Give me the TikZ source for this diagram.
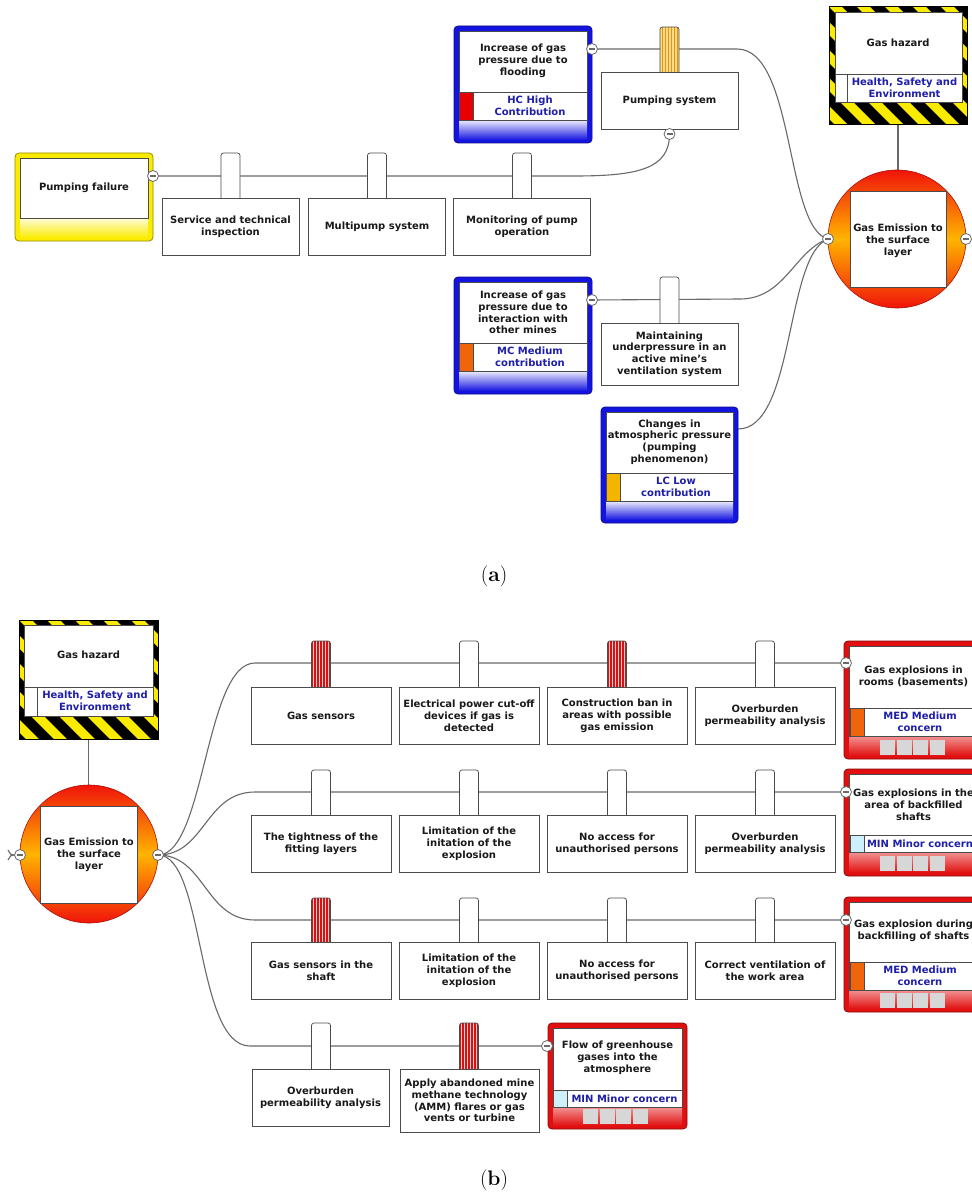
\documentclass[tikz,border=0pt]{standalone}
\usepackage{fontspec}
\setsansfont{DejaVu Sans}
\definecolor{txtc}{RGB}{25,25,25}
\definecolor{bluet}{RGB}{30,30,170}
\definecolor{linec}{RGB}{105,105,105}
\definecolor{framec}{RGB}{75,75,75}
\definecolor{bluef}{RGB}{20,20,225}
\definecolor{redf}{RGB}{225,15,15}
\definecolor{yelf}{RGB}{250,235,0}
\definecolor{hcred}{RGB}{230,0,0}
\definecolor{mcor}{RGB}{240,100,10}
\definecolor{lcor}{RGB}{245,180,0}
\definecolor{minc}{RGB}{205,240,250}
\definecolor{grayq}{RGB}{215,215,215}
\definecolor{redc}{RGB}{240,20,10}
\definecolor{orc}{RGB}{255,180,0}
\definecolor{tabred}{RGB}{210,20,20}
\definecolor{tabredl}{RGB}{255,205,205}
\definecolor{tabor}{RGB}{250,220,130}
\definecolor{taborl}{RGB}{230,145,25}
\newcommand{\cframe}[7]{%
  \fill[#6, rounded corners=4pt] (#1,#2) rectangle (#3,#4);
  \shade[top color=#7, bottom color=#6] (#1+5,#5) rectangle (#3-5,#4-3);
  \draw[#6!60!black, line width=0.8pt, rounded corners=4pt] (#1,#2) rectangle (#3,#4);
  \draw[inbox] (#1+5,#2+5) rectangle (#3-5,#5);
}
\newcommand{\lblrow}[5]{%
  \fill[#5] (#1,#3) rectangle (#1+14,#4);
  \draw[framec, line width=0.6pt] (#1,#3) -- (#2,#3) (#1+14,#3) -- (#1+14,#4);
  \draw[framec, line width=0.6pt] (#1,#3) rectangle (#2,#4);
}
\newcommand{\grayrow}[2]{%
  \foreach \i in {0,1,2,3}{\fill[grayq] (#1+\i*16.5,#2) rectangle (#1+\i*16.5+15,#2+15);}
}
\newcommand{\tabw}[3]{%
  \draw[fill=white, draw=framec, line width=0.7pt, rounded corners=2.5pt] (#1-9.5,#2) rectangle (#1+9.5,#3+4);
}
\newcommand{\tabs}[5]{%
  \begin{scope}
    \clip[rounded corners=2.5pt] (#1-9.5,#2) rectangle (#1+9.5,#3+4);
    \fill[#4] (#1-10,#2) rectangle (#1+10,#3+4);
    \foreach \k in {0,3,...,15}{\draw[#5, line width=0.9pt] (#1-7.5+\k,#2) -- (#1-7.5+\k,#3+4);}
  \end{scope}
  \draw[framec, line width=0.7pt, rounded corners=2.5pt] (#1-9.5,#2) rectangle (#1+9.5,#3+4);
}
\newcommand{\hazard}[4]{%
  \begin{scope}
    \clip (#1,#2) rectangle (#3,#4);
    \fill[black] (#1,#2) rectangle (#3,#4);
    \foreach \k in {0,...,10}{%
      \pgfmathsetmacro{\xs}{#1-140+\k*28}%
      \fill[yelf] (\xs,#2) -- (\xs+13,#2) -- (\xs+13+125,#2+125) -- (\xs+125,#2+125) -- cycle;}
  \end{scope}
  \draw[black, line width=1pt] (#1,#2) rectangle (#3,#4);
}
\newcommand{\minusc}[1]{%
  \draw[fill=white, draw=linec, line width=0.8pt] (#1) circle (5.5pt);
  \draw[linec, line width=1.1pt] ([xshift=-3pt]#1) -- ([xshift=3pt]#1);
}
\begin{document}
\begin{tikzpicture}[x=1pt,y=-1pt,
  txt/.style={font=\sffamily\bfseries\fontsize{10}{11.8}\selectfont, text=txtc, align=center, inner sep=0pt},
  btxt/.style={txt, text=bluet},
  bar/.style={txt, draw=framec, fill=white, line width=0.7pt, minimum width=140pt, minimum height=57pt},
  conn/.style={draw=linec, line width=1.1pt},
  inbox/.style={draw=framec, fill=white, line width=0.6pt},
  lab/.style={font=\fontsize{21}{24}\selectfont, inner sep=0pt}
]
\useasboundingbox (0,0) rectangle (971,1193);
\fill[white] (0,0) rectangle (971,1193);

% ---------- (a) coordinates ----------
\coordinate (pfm) at (153,176);
\coordinate (flm) at (592,49);
\coordinate (psm) at (669.5,134);
\coordinate (imm) at (592,300);
\coordinate (chm) at (738,429);
\coordinate (gel) at (828,239);
\coordinate (ger) at (966,239);
\coordinate (ghb) at (898,125);
\coordinate (get) at (898,170);

% ---------- (b) coordinates ----------
\coordinate (ghbb) at (88.5,739);
\coordinate (getb) at (88.5,785);
\coordinate (gelb) at (20,855);
\coordinate (gerb) at (158,855);
\coordinate (c1m) at (846,663);
\coordinate (c2m) at (846,792);
\coordinate (c3m) at (846,920);
\coordinate (c4m) at (547,1046);

% ---------- connectors (a) ----------
\draw[conn] (ghb) -- (get);
\draw[conn] (pfm) -- (575,176) .. controls (640,176) and (669.5,168) .. (psm);
\draw[conn] (flm) -- (737,49) .. controls (795,49) and (785,228) .. (gel);
\draw[conn] (imm) -- (740,299) .. controls (785,299) and (795,250) .. (gel);
\draw[conn] (chm) .. controls (795,429) and (785,255) .. (gel);

% ---------- connectors (b) ----------
\draw[conn] (ghbb) -- (getb);
\draw[conn] (gerb) .. controls (205,855) and (205,663) .. (255,663) -- (c1m);
\draw[conn] (gerb) .. controls (205,855) and (205,792) .. (255,792) -- (c2m);
\draw[conn] (gerb) .. controls (205,855) and (205,920) .. (255,920) -- (c3m);
\draw[conn] (gerb) .. controls (205,855) and (195,1046) .. (250,1046) -- (c4m);
\draw[conn] (gelb) -- (14,855) .. controls (11,855) .. (8,850);
\draw[conn] (14,855) .. controls (11,855) .. (8,860);

% ---------- tabs (a) ----------
\tabw{230.5}{153}{198}
\tabw{377}{153}{198}
\tabw{522}{153}{198}
\tabs{669.5}{27}{72}{tabor}{taborl}
\tabw{669.5}{277}{323}

% ---------- tabs (b) ----------
\tabs{321}{641}{687}{tabred}{tabredl}
\tabw{469}{641}{687}
\tabs{617}{641}{687}{tabred}{tabredl}
\tabw{765}{641}{687}
\tabw{321}{770}{815}
\tabw{469}{770}{815}
\tabw{617}{770}{815}
\tabw{765}{770}{815}
\tabs{321}{898}{942}{tabred}{tabredl}
\tabw{469}{898}{942}
\tabw{617}{898}{942}
\tabw{765}{898}{942}
\tabw{321}{1023}{1069}
\tabs{469}{1023}{1069}{tabred}{tabredl}

% ---------- barriers (a) ----------
\node[bar, minimum width=137pt] (sti) at (230.5,226.5) {Service and technical\\inspection};
\node[bar, minimum width=137pt] (mps) at (377,226.5) {Multipump system};
\node[bar, minimum width=137pt] (mpo) at (522,226.5) {Monitoring of pump\\operation};
\node[bar, minimum width=137pt] (pms) at (669.5,100.5) {Pumping system};
\node[bar, minimum width=137pt, minimum height=62pt] (mup) at (669.5,354) {Maintaining\\underpressure in an\\active mine's\\ventilation system};

% ---------- threats (a) ----------
\cframe{15}{153}{153}{241}{218}{yelf}{yelf!15!white}
\node[txt] (pf) at (84,188) {Pumping failure};

\cframe{454}{26}{592}{143}{120}{bluef}{bluef!8!white}
\lblrow{459}{587}{92}{120}{hcred}
\node[txt] (fl) at (523,61) {Increase of gas\\pressure due to\\flooding};
\node[btxt] (flc) at (530,106) {HC High\\Contribution};

\cframe{454}{277}{592}{394}{371}{bluef}{bluef!8!white}
\lblrow{459}{587}{343}{371}{mcor}
\node[txt] (im) at (523,312.5) {Increase of gas\\pressure due to\\interaction with\\other mines};
\node[btxt] (imc) at (530,357) {MC Medium\\contribution};

\cframe{601}{407}{738}{523}{501}{bluef}{bluef!8!white}
\lblrow{606}{733}{473}{501}{lcor}
\node[txt] (ch) at (669.5,442) {Changes in\\atmospheric pressure\\(pumping\\phenomenon)};
\node[btxt] (chc) at (676,487) {LC Low\\contribution};

% ---------- hazard (a) ----------
\hazard{829}{7}{967}{125}
\draw[inbox] (835,12) rectangle (962,102);
\draw[framec, line width=0.6pt] (835,74) -- (962,74) (847,74) -- (847,102);
\node[txt] (gha) at (898,43) {Gas hazard};
\node[btxt] (ghac) at (904.5,87.5) {Health, Safety and\\Environment};

% ---------- top event (a) ----------
\shade[top color=redc, bottom color=redc, middle color=orc] (897,239) circle (69pt);
\draw[redc!70!black, line width=0.6pt] (897,239) circle (69pt);
\draw[inbox] (850,191) rectangle (946,287);
\node[txt] (gea) at (898,241) {Gas Emission to\\the surface\\layer};

% ---------- hazard (b) ----------
\hazard{19}{620}{158}{739}
\draw[inbox] (24,625) rectangle (153,716);
\draw[framec, line width=0.6pt] (24,687) -- (153,687) (37,687) -- (37,716);
\node[txt] (ghb2) at (88.5,655) {Gas hazard};
\node[btxt] (ghbc) at (95,700.5) {Health, Safety and\\Environment};

% ---------- top event (b) ----------
\shade[top color=redc, bottom color=redc, middle color=orc] (89,854) circle (69pt);
\draw[redc!70!black, line width=0.6pt] (89,854) circle (69pt);
\draw[inbox] (40,806) rectangle (137,903);
\node[txt] (geb) at (89,855) {Gas Emission to\\the surface\\layer};

% ---------- barriers (b) ----------
\node[bar] (r1a) at (321,715.5) {Gas sensors};
\node[bar] (r1b) at (469,715.5) {Electrical power cut-off\\devices if gas is\\detected};
\node[bar] (r1c) at (617,715.5) {Construction ban in\\areas with possible\\gas emission};
\node[bar] (r1d) at (765,715.5) {Overburden\\permeability analysis};
\node[bar] (r2a) at (321,843.5) {The tightness of the\\fitting layers};
\node[bar] (r2b) at (469,843.5) {Limitation of the\\initation of the\\explosion};
\node[bar] (r2c) at (617,843.5) {No access for\\unauthorised persons};
\node[bar] (r2d) at (765,843.5) {Overburden\\permeability analysis};
\node[bar] (r3a) at (321,970.5) {Gas sensors in the\\shaft};
\node[bar] (r3b) at (469,970.5) {Limitation of the\\initation of the\\explosion};
\node[bar] (r3c) at (617,970.5) {No access for\\unauthorised persons};
\node[bar] (r3d) at (765,970.5) {Correct ventilation of\\the work area};
\node[bar, minimum width=137pt] (r4a) at (320.5,1098) {Overburden\\permeability analysis};
\node[bar, minimum width=139pt, minimum height=63pt] (r4b) at (469.5,1100.5) {Apply abandoned mine\\methane technology\\(AMM) flares or gas\\vents or turbine};

% ---------- consequences (b) ----------
\cframe{844}{641}{983}{759}{736}{redf}{redf!45!white}
\lblrow{850}{977}{708}{736}{mcor}
\grayrow{880}{740}
\node[txt] (c1) at (913.5,676) {Gas explosions in\\rooms (basements)};
\node[btxt] (c1c) at (920,722) {MED Medium\\concern};

\cframe{844}{769}{983}{876}{852}{redf}{redf!45!white}
\lblrow{850}{977}{835}{852}{minc}
\grayrow{880}{856}
\node[txt] (c2) at (913.5,805) {Gas explosions in the\\area of backfilled\\shafts};
\node[btxt] (c2c) at (920,843.5) {MIN Minor concern};

\cframe{844}{897}{983}{1012}{990}{redf}{redf!45!white}
\lblrow{850}{977}{962}{990}{mcor}
\grayrow{880}{993}
\node[txt] (c3) at (913.5,931) {Gas explosion during\\backfilling of shafts};
\node[btxt] (c3c) at (920,976) {MED Medium\\concern};

\cframe{548}{1023}{687}{1129}{1107}{redf}{redf!45!white}
\lblrow{553}{682}{1090}{1107}{minc}
\grayrow{583}{1109}
\node[txt] (c4) at (617.5,1058) {Flow of greenhouse\\gases into the\\atmosphere};
\node[btxt] (c4c) at (624.5,1098.5) {MIN Minor concern};

% ---------- minus markers ----------
\minusc{pfm}
\minusc{flm}
\minusc{psm}
\minusc{imm}
\minusc{gel}
\minusc{ger}
\minusc{gelb}
\minusc{gerb}
\minusc{c1m}
\minusc{c2m}
\minusc{c3m}
\minusc{c4m}

% ---------- captions ----------
\node[lab] (la) at (494,576) {(\textbf{a})};
\node[lab] (lb) at (494,1180) {(\textbf{b})};
\end{tikzpicture}
\end{document}
